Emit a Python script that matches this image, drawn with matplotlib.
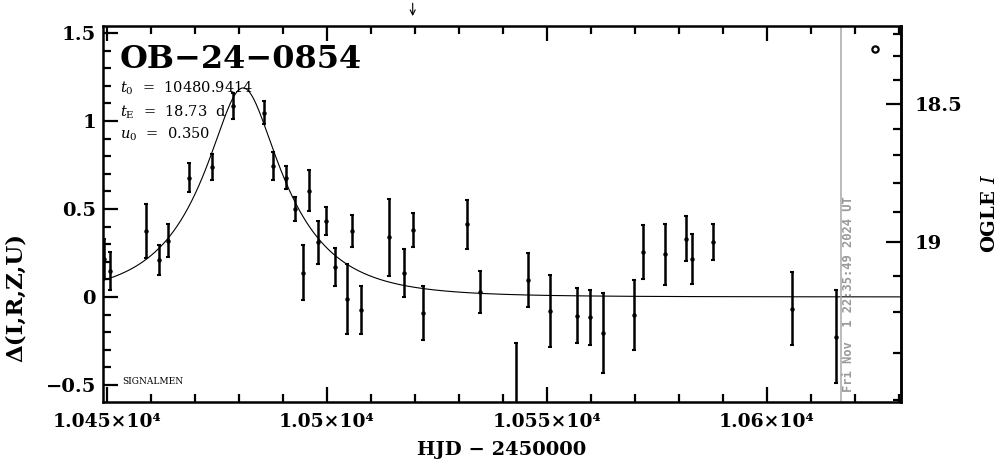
import numpy as np
import matplotlib
matplotlib.use('Agg')
import matplotlib.pyplot as plt
from matplotlib.ticker import MultipleLocator, FixedLocator, FuncFormatter

# event parameters as printed on the plot
event_name = 'OB\u221224\u22120854'
t0 = 10480.9414
tE = 18.73
u0 = 0.350

# photometry: HJD - 2450000, delta mag, error
hjd = [10449.3, 10450.75, 10458.9, 10461.75, 10463.8, 10468.6, 10473.8, 10478.6,
       10485.75, 10487.7, 10490.8, 10492.7, 10494.5, 10495.9, 10497.95, 10499.9,
       10501.9, 10504.5, 10505.8, 10507.8, 10514.0, 10517.6, 10519.6, 10521.9,
       10531.75, 10534.7, 10542.9, 10545.8, 10550.75, 10556.75, 10559.8, 10562.8,
       10569.8, 10571.9, 10576.8, 10581.7, 10582.9, 10587.8, 10605.8, 10615.8]
dmag = [0.216, 0.149, 0.375, 0.210, 0.320, 0.678, 0.740, 1.085,
        1.047, 0.746, 0.678, 0.500, 0.138, 0.604, 0.311, 0.432,
        0.172, -0.011, 0.375, -0.074, 0.339, 0.135, 0.380, -0.093,
        0.413, 0.027, -0.72, 0.097, -0.080, -0.106, -0.116, -0.206,
        -0.104, 0.257, 0.243, 0.330, 0.214, 0.311, -0.066, -0.225]
err = [0.116, 0.109, 0.152, 0.085, 0.093, 0.082, 0.073, 0.074,
       0.064, 0.080, 0.067, 0.066, 0.157, 0.117, 0.123, 0.078,
       0.109, 0.199, 0.090, 0.134, 0.219, 0.137, 0.097, 0.154,
       0.140, 0.118, 0.46, 0.153, 0.207, 0.158, 0.156, 0.226,
       0.198, 0.153, 0.174, 0.128, 0.141, 0.101, 0.206, 0.264]

# the lone open circle in the corner
ogle_hjd = [10624.5]
ogle_dmag = [1.409]

# right axis: OGLE I with blending
base_I = 19.159
f_s = 0.478
I_major = [18.5, 19.0]
I_minor = [18.2, 18.3, 18.4, 18.6, 18.7, 18.8, 18.9, 19.1, 19.2, 19.3, 19.4]

now_hjd = 10616.9          # grey line
arrow_hjd = 10519.5        # arrow above the frame
stamp = 'Fri Nov  1 22:35:49 2024 UT'

x_range = (10449.1, 10630.5)
y_range = (-0.597, 1.54)


def magnification(t):
    u = np.sqrt(u0 ** 2 + ((t - t0) / tE) ** 2)
    return (u ** 2 + 2) / (u * np.sqrt(u ** 2 + 4))


def d_to_I(d):
    d = np.asarray(d, dtype=float)
    flux = 1 + f_s * (10 ** (0.4 * d) - 1)
    flux = np.clip(flux, 1e-6, None)
    return base_I - 2.5 * np.log10(flux)


def I_to_d(mag):
    mag = np.asarray(mag, dtype=float)
    a = 1 + (10 ** (-0.4 * (mag - base_I)) - 1) / f_s
    a = np.clip(a, 1e-6, None)
    return 2.5 * np.log10(a)


plt.rcParams['font.family'] = 'DejaVu Serif'
plt.rcParams['mathtext.fontset'] = 'dejavuserif'

fig = plt.figure(figsize=(10.04, 4.59), dpi=100)
ax = fig.add_axes([103 / 1004, 1 - 402 / 459, 798 / 1004, 376 / 459])

tt = np.linspace(x_range[0], x_range[1], 2000)
ax.plot(tt, 2.5 * np.log10(magnification(tt)), color='black', lw=0.8)

ax.errorbar(hjd, dmag, yerr=err, fmt='o', ms=2.2, color='black',
            ecolor='black', elinewidth=1.8, capsize=1.5, capthick=1.5)
ax.plot(ogle_hjd, ogle_dmag, 'o', ms=4.5, mfc='white', mec='black', mew=1.6)

ax.axvline(now_hjd, color='#a8a8a8', lw=1.1)
ax.text(now_hjd + 1.6, 0.027, stamp, transform=ax.get_xaxis_transform(),
        rotation=90, ha='center', va='bottom', color='#999999',
        family='DejaVu Sans Mono', weight='bold', fontsize=8.7)

ax.annotate('', xy=(arrow_hjd, 1.019), xytext=(arrow_hjd, 1.068),
            xycoords=('data', 'axes fraction'), textcoords=('data', 'axes fraction'),
            arrowprops=dict(arrowstyle='->', lw=0.8, color='black', mutation_scale=9),
            annotation_clip=False)

ax.set_xlim(*x_range)
ax.set_ylim(*y_range)

ax.xaxis.set_major_locator(MultipleLocator(50))
ax.xaxis.set_minor_locator(MultipleLocator(10))
ax.xaxis.set_major_formatter(FuncFormatter(lambda v, p: f'{v / 1e4:g}\u00d710\u2074'))
ax.yaxis.set_major_locator(MultipleLocator(0.5))
ax.yaxis.set_minor_locator(MultipleLocator(0.1))
ax.yaxis.set_major_formatter(FuncFormatter(lambda v, p: f'{v:g}'.replace('-', '\u2212')))

ax.tick_params(which='both', direction='in', top=True, right=False, width=1.6)
ax.tick_params(which='major', length=11)
ax.tick_params(which='minor', length=5.5)
ax.tick_params(axis='x', labelsize=13.5, pad=8)
ax.tick_params(axis='y', labelsize=14, pad=5)
for lab in ax.get_xticklabels() + ax.get_yticklabels():
    lab.set_fontweight('bold')
for sp in ax.spines.values():
    sp.set_linewidth(1.8)

sec = ax.secondary_yaxis('right', functions=(d_to_I, I_to_d))
sec.yaxis.set_major_locator(FixedLocator(I_major))
sec.yaxis.set_minor_locator(FixedLocator(I_minor))
sec.yaxis.set_major_formatter(FuncFormatter(lambda v, p: f'{v:g}'))
sec.tick_params(which='both', direction='in', width=1.6)
sec.tick_params(which='major', length=11, labelsize=14, pad=10)
sec.tick_params(which='minor', length=5.5)
sec.spines['right'].set_linewidth(1.8)
for lab in sec.get_yticklabels():
    lab.set_fontweight('bold')

ax.text(0.021, 0.888, event_name, transform=ax.transAxes, fontsize=23,
        weight='bold', va='baseline')
ax.text(0.021, 0.822, r'$t_0$  =  %.4f' % t0, transform=ax.transAxes, fontsize=10.5, va='baseline')
ax.text(0.021, 0.760, r'$t_{\rm E}$  =  %.2f  d' % tE, transform=ax.transAxes, fontsize=10.5, va='baseline')
ax.text(0.021, 0.701, r'$u_0$  =  %.3f' % u0, transform=ax.transAxes, fontsize=10.5, va='baseline')
ax.text(0.024, 0.055, 'SIGNALMEN', transform=ax.transAxes, fontsize=6.5, va='center')

fig.text(502 / 1004, 1 - 450 / 459, 'HJD \u2212 2450000', ha='center', va='center',
         fontsize=14, weight='bold')
fig.text(16 / 1004, 1 - 298 / 459, '\u0394(I,R,Z,U)', ha='center', va='center',
         rotation=90, fontsize=16.5, weight='bold')
fig.text(990 / 1004, 1 - 213 / 459, r'OGLE $I$', ha='center', va='center',
         rotation=90, fontsize=14, weight='bold')

fig.savefig('out.png', dpi=100)
